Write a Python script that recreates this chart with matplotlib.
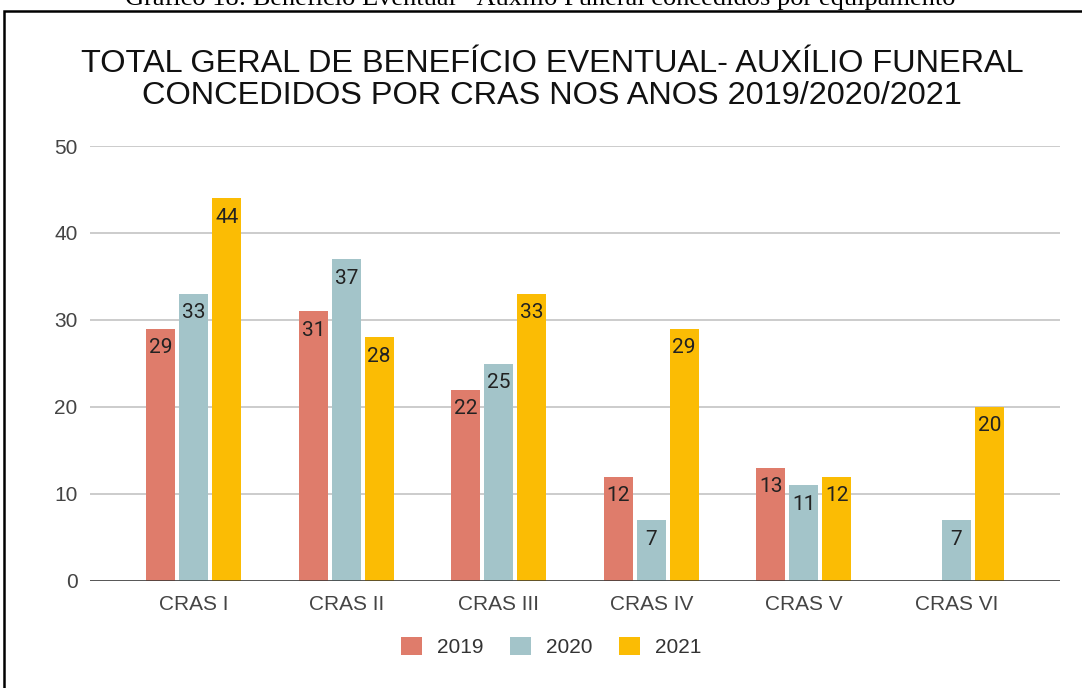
import matplotlib.pyplot as plt
import numpy as np
from matplotlib.patches import Rectangle

categories = ["CRAS I", "CRAS II", "CRAS III", "CRAS IV", "CRAS V", "CRAS VI"]
years = ["2019", "2020", "2021"]
vals_2019 = [29, 31, 22, 12, 13, 0]
vals_2020 = [33, 37, 25, 7, 11, 7]
vals_2021 = [44, 28, 33, 29, 12, 20]
colors = ["#df7c6b", "#a3c4c9", "#fbbc04"]

W, H = 1082, 688
fig = plt.figure(figsize=(W / 100, H / 100), dpi=100)
ax = fig.add_axes([90 / W, 1 - 581 / H, 970 / W, 435 / H])

x = np.arange(len(categories))
pitch = 0.216
for i, (yr, vals, c) in enumerate(zip(years, [vals_2019, vals_2020, vals_2021], colors)):
    xs = x + (i - 1) * pitch
    bars = ax.bar(xs, vals, width=0.19, color=c, label=yr, zorder=3)
    for b, v in zip(bars, vals):
        if v == 0:
            continue
        ax.annotate(str(v), (b.get_x() + b.get_width() / 2, v),
                    xytext=(0, -19), textcoords="offset pixels",
                    ha="center", va="center", fontsize=15,
                    family="Roboto", color="#222222", zorder=4)

ax.set_xlim(-0.68, 5.68)
ax.set_ylim(0, 50)
ax.set_yticks([0, 10, 20, 30, 40, 50])
ax.set_xticks(x)
ax.set_xticklabels(categories)
ax.grid(axis="y", color="#cccccc", linewidth=1.4, zorder=0)
ax.axhline(0, color="#333333", linewidth=1.8, zorder=5)
for s in ax.spines.values():
    s.set_visible(False)
ax.tick_params(length=0, labelsize=15, labelcolor="#444444", pad=9)
ax.tick_params(axis="x", pad=10)
for lab in ax.get_xticklabels() + ax.get_yticklabels():
    lab.set_family("Liberation Sans")

fig.text(552 / W, 1 - 64 / H, "TOTAL GERAL DE BENEFÍCIO EVENTUAL- AUXÍLIO FUNERAL",
         ha="center", va="center", fontsize=23.4, family="Liberation Sans", color="#111111")
fig.text(552 / W, 1 - 96 / H, "CONCEDIDOS POR CRAS NOS ANOS 2019/2020/2021",
         ha="center", va="center", fontsize=23.4, family="Liberation Sans", color="#111111")

fig.text(540 / W, 1 - 5 / H,
         "Gráfico 18: Benefício Eventual - Auxílio Funeral concedidos por equipamento",
         ha="center", va="baseline", fontsize=19, family="Liberation Serif", color="black")

leg = fig.legend(loc="center", bbox_to_anchor=(551 / W, 1 - 647 / H), ncol=3,
                 frameon=False, handlelength=1.0, handleheight=1.0,
                 columnspacing=1.3, handletextpad=0.7,
                 prop={"family": "Liberation Sans", "size": 15})
for t in leg.get_texts():
    t.set_color("#333333")

fig.patches.append(Rectangle((4 / W, -0.1), 1.2, 1.1 - 11 / H, transform=fig.transFigure,
                             fill=False, edgecolor="black", linewidth=1.8, clip_on=False))

fig.savefig("out.png", dpi=100)
